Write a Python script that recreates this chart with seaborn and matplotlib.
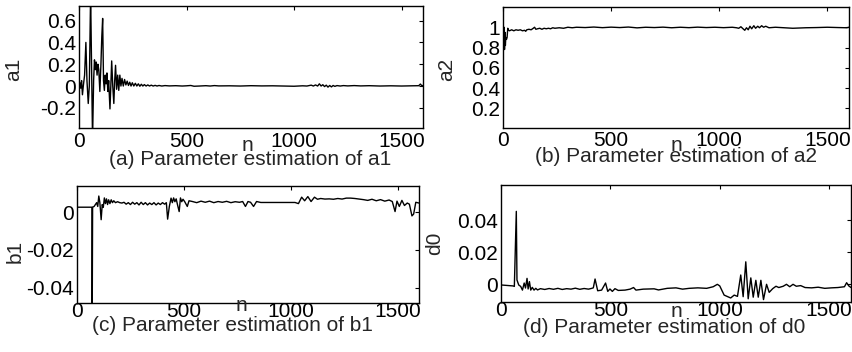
import matplotlib
matplotlib.use("Agg")
import matplotlib.pyplot as plt
import seaborn as sns
import pandas as pd

# ---------------- data ----------------
x_ticks = [0, 500, 1000, 1500]
x_tick_labels = ["0", "500", "1000", "1500"]

# (a) a1
a1_n = [0, 4, 8, 12, 16, 20, 26, 32, 37, 43, 48, 54, 63, 68, 72, 76, 80, 84, 88, 92,
        97, 102, 106, 110, 114, 118, 122, 126, 130, 134, 138, 144, 148, 152, 157, 162,
        166, 170, 175, 180, 185, 190, 195, 200, 206, 212, 218, 224, 230, 236, 242, 248,
        255, 262, 269, 276, 283, 290, 297, 304, 312, 320, 328, 336, 345, 354, 363, 372,
        385, 400, 420, 450, 480, 500, 520, 535, 560, 590, 610, 630, 650, 700, 750, 800,
        850, 900, 950, 1000, 1040, 1060, 1080, 1090, 1100, 1110, 1118, 1126, 1134, 1142,
        1150, 1158, 1166, 1174, 1182, 1190, 1200, 1215, 1230, 1250, 1280, 1310, 1350,
        1400, 1450, 1500, 1550, 1580, 1588, 1594, 1600]
a1_v = [0.0, 0.03, -0.02, 0.05, -0.08, 0.0, 0.1, 0.40, 0.05, -0.16, 0.0, 0.85, -0.5, 0.05,
        0.24, 0.15, 0.22, 0.1, 0.2, 0.15, -0.05, 0.2, 0.45, 0.62, 0.05, -0.04, 0.1, 0.02,
        0.12, -0.05, 0.05, -0.21, 0.0, 0.23, 0.0, -0.16, 0.05, 0.19, -0.03, 0.1, -0.04,
        0.1, 0.0, 0.07, 0.0, 0.06, 0.01, 0.045, 0.005, 0.035, 0.0, 0.03, 0.0, 0.025, 0.0,
        0.02, -0.002, 0.016, 0.0, 0.013, 0.0, 0.01, 0.0, 0.008, 0.0, 0.006, 0.0, 0.005,
        0.0, 0.004, 0.001, 0.003, 0.0, 0.002, 0.005, -0.002, 0.0, 0.003, 0.0, 0.004,
        0.001, 0.002, 0.0, 0.003, 0.001, 0.002, 0.0, -0.002, 0.002, 0.0, 0.008, 0.0,
        0.01, 0.0, 0.02, 0.0, 0.012, -0.005, 0.008, -0.01, 0.005, -0.008, 0.005, -0.003,
        0.004, 0.0, 0.004, 0.001, 0.004, 0.001, 0.003, 0.0, 0.002, 0.0, 0.002, 0.003,
        0.018, 0.003, 0.005]
a1_ticks = [-0.2, 0, 0.2, 0.4, 0.6]
a1_tick_labels = ["-0.2", "0", "0.2", "0.4", "0.6"]

# (b) a2
a2_n = [0, 3, 5, 7, 9, 11, 13, 16, 19, 22, 26, 30, 40, 50, 60, 70, 80, 90, 100, 105,
        110, 120, 130, 140, 146, 152, 160, 170, 180, 190, 200, 210, 220, 230, 240, 260,
        280, 300, 320, 340, 380, 420, 460, 500, 540, 580, 620, 660, 700, 740, 780, 820,
        860, 900, 940, 980, 1020, 1060, 1080, 1090, 1100, 1110, 1118, 1126, 1134, 1142,
        1150, 1160, 1168, 1178, 1186, 1196, 1205, 1215, 1230, 1260, 1300, 1340, 1400,
        1450, 1500, 1550, 1590, 1600]
a2_v = [1.02, 0.8, 1.0, 0.78, 0.95, 0.82, 0.9, 0.88, 0.9, 0.99, 0.97, 0.965, 0.975,
        0.965, 0.975, 0.97, 0.975, 0.965, 0.97, 0.96, 0.975, 0.98, 0.975, 0.99, 1.0,
        0.98, 0.985, 0.99, 0.98, 0.99, 0.985, 0.99, 0.985, 0.995, 0.99, 0.995, 0.99,
        1.0, 0.995, 1.0, 0.997, 1.002, 0.996, 1.001, 0.997, 1.002, 0.994, 1.0, 0.997,
        1.001, 0.995, 1.0, 0.996, 1.001, 0.997, 1.0, 0.996, 1.0, 0.995, 0.99, 1.005,
        0.985, 0.97, 0.995, 0.975, 1.01, 0.985, 1.015, 0.99, 1.01, 0.995, 1.015, 1.0,
        1.01, 0.995, 1.0, 0.995, 0.99, 0.995, 0.997, 1.0, 0.997, 0.995, 1.0]
a2_ticks = [0.2, 0.4, 0.6, 0.8, 1]
a2_tick_labels = ["0.2", "0.4", "0.6", "0.8", "1"]

# (c) b1
b1_n = [0, 70, 71, 73, 80, 86, 92, 97, 102, 107, 113, 118, 123, 128, 133, 138, 143, 148,
        154, 160, 166, 172, 180, 190, 200, 210, 220, 230, 240, 250, 260, 270, 280, 290,
        300, 310, 320, 330, 340, 350, 360, 370, 380, 390, 400, 410, 418, 424, 432, 440,
        446, 452, 458, 464, 470, 478, 484, 490, 496, 504, 516, 524, 540, 560, 580, 600,
        620, 640, 660, 680, 700, 720, 740, 760, 775, 788, 800, 812, 826, 840, 860, 880,
        1020, 1036, 1051, 1065, 1080, 1095, 1111, 1125, 1140, 1160, 1180, 1200, 1220,
        1240, 1260, 1280, 1300, 1320, 1340, 1360, 1380, 1400, 1420, 1440, 1460, 1475,
        1488, 1497, 1508, 1520, 1532, 1545, 1555, 1567, 1575, 1585, 1600]
b1_v = [0.0026, 0.0026, -0.06, 0.0026, 0.003, 0.004, 0.005, 0.003, 0.0085, 0.005,
        -0.004, 0.004, 0.0025, 0.0075, 0.0045, 0.007, 0.004, 0.0065, 0.0045, 0.0065,
        0.005, 0.006, 0.005, 0.0055, 0.005, 0.0048, 0.0052, 0.0042, 0.005, 0.004,
        0.0052, 0.0042, 0.005, 0.0038, 0.0052, 0.004, 0.005, 0.0038, 0.0048, 0.004,
        0.005, 0.0038, 0.0048, 0.004, 0.005, 0.0042, 0.005, -0.0037, 0.003, 0.0074,
        0.005, 0.0075, 0.0055, 0.007, 0.004, 0.0003, 0.0075, 0.0055, 0.0068, 0.0055,
        0.003, 0.006, 0.0056, 0.005, 0.0058, 0.0052, 0.0058, 0.005, 0.0056, 0.0052,
        0.0057, 0.005, 0.0055, 0.0052, 0.0056, 0.003, 0.0056, 0.0052, 0.003, 0.0056,
        0.0051, 0.0051, 0.0051, 0.0045, 0.0079, 0.006, 0.0082, 0.0056, 0.0079, 0.0068,
        0.0072, 0.0069, 0.007, 0.0068, 0.0072, 0.0069, 0.0074, 0.0074, 0.0072, 0.0069,
        0.0066, 0.0062, 0.0068, 0.006, 0.0066, 0.0058, 0.0064, 0.0056, 0.0003, 0.0058,
        0.003, 0.0062, 0.0035, 0.0048, 0.0042, -0.002, -0.001, 0.0052, 0.0048]
b1_ticks = [-0.04, -0.02, 0]
b1_tick_labels = ["-0.04", "-0.02", "0"]

# (d) d0
d0_n = [0, 55, 61, 70, 73, 81, 90, 98, 106, 112, 119, 124, 130, 136, 143, 151, 159,
        167, 180, 200, 220, 240, 260, 280, 300, 320, 340, 360, 380, 400, 415, 422, 430,
        442, 460, 478, 488, 498, 509, 521, 536, 567, 590, 606, 617, 650, 700, 720, 760,
        800, 830, 860, 900, 940, 970, 989, 1000, 1020, 1050, 1066, 1081, 1096, 1107,
        1119, 1130, 1142, 1153, 1165, 1176, 1188, 1200, 1214, 1226, 1242, 1257, 1270,
        1290, 1305, 1320, 1335, 1350, 1370, 1390, 1420, 1450, 1480, 1510, 1540, 1570,
        1580, 1590, 1600]
d0_v = [-0.0004, -0.001, -0.0013, 0.0454, 0.0027, -0.0004, -0.0013, -0.0036, 0.0008,
        -0.0023, 0.0037, -0.0029, 0.0017, -0.0036, -0.0019, -0.0036, -0.0025, -0.0035,
        -0.0027, -0.0032, -0.0026, -0.0031, -0.0025, -0.0032, -0.0027, -0.003, -0.0024,
        -0.0031, -0.0026, -0.003, -0.0025, -0.0022, 0.0033, -0.004, -0.0036, 0.0008,
        -0.0044, -0.0029, -0.0044, -0.0027, -0.0038, -0.0036, -0.003, -0.002, -0.0036,
        -0.003, -0.0028, -0.0035, -0.0025, -0.0022, -0.003, -0.0025, -0.0022, -0.0025,
        -0.0015, 0.0, -0.001, -0.0067, -0.0085, -0.0067, -0.0075, 0.0058, -0.0077,
        0.014, -0.009, 0.004, -0.008, 0.0025, -0.008, 0.0025, -0.0095, 0.0, -0.005,
        -0.0027, -0.0012, -0.002, -0.0012, 0.0, -0.0015, 0.0, -0.0012, -0.0008, -0.002,
        -0.0022, -0.0018, -0.0025, -0.0022, -0.002, -0.0015, 0.001, -0.001, -0.002]
d0_ticks = [0, 0.02, 0.04]
d0_tick_labels = ["0", "0.02", "0.04"]

captions = ["(a) Parameter estimation of a1", "(b) Parameter estimation of a2",
            "(c) Parameter estimation of b1", "(d) Parameter estimation of d0"]
ylabels = ["a1", "a2", "b1", "d0"]

# ---------------- styling ----------------
sns.set_style("white")
plt.rcParams["font.family"] = ["Liberation Sans", "DejaVu Sans"]
FS = 15

fig = plt.figure(figsize=(8.52, 3.52), dpi=100)
W, H = 852.0, 352.0


def mk(l, t, r, b):
    return fig.add_axes([l / W, 1 - b / H, (r - l) / W, (b - t) / H])


axes = [mk(79, 6, 423, 128), mk(503, 7, 849, 128), mk(77, 186, 419, 303), mk(501, 185, 851, 302)]
series = [(a1_n, a1_v), (a2_n, a2_v), (b1_n, b1_v), (d0_n, d0_v)]
ylims = [(-0.385, 0.734), (0.005, 1.2), (-0.048, 0.0138), (-0.011, 0.0618)]
yticks = [(a1_ticks, a1_tick_labels), (a2_ticks, a2_tick_labels),
          (b1_ticks, b1_tick_labels), (d0_ticks, d0_tick_labels)]
ylab_pos = [(-0.19, 0.48), (-0.162, 0.48), (-0.181, 0.44), (-0.189, 0.50)]
xlab_pos = [(0.49, -0.145), (0.502, -0.148), (0.48, -0.025), (0.50, -0.085)]
cap_pos = [(0.4985, -0.255), (0.50, -0.232), (0.455, -0.195), (0.466, -0.218)]
xpad = [3.2, 2.4, -0.6, -0.4]

for i, ax in enumerate(axes):
    n, v = series[i]
    df = pd.DataFrame({"n": n, "v": v})
    sns.lineplot(data=df, x="n", y="v", ax=ax, color="black", linewidth=1.0,
                 estimator=None, sort=False)
    ax.set_xlim(0, 1600)
    ax.set_ylim(*ylims[i])
    ax.set_xticks(x_ticks)
    ax.set_xticklabels(x_tick_labels)
    ax.set_yticks(yticks[i][0])
    ax.set_yticklabels(yticks[i][1])
    ax.tick_params(direction="in", length=3, width=0.8, top=True, right=True,
                   labelsize=FS, colors="black")
    ax.tick_params(axis="x", pad=xpad[i])
    ax.tick_params(axis="y", pad=2)
    for s in ax.spines.values():
        s.set_color("black")
        s.set_linewidth(1.0)
        s.set_visible(True)
    ax.set_xlabel("")
    ax.set_ylabel("")
    ax.text(ylab_pos[i][0], ylab_pos[i][1], ylabels[i], transform=ax.transAxes,
            rotation=90, ha="center", va="center", fontsize=FS)
    ax.text(xlab_pos[i][0], xlab_pos[i][1], "n", transform=ax.transAxes,
            ha="center", va="center", fontsize=FS)
    ax.text(cap_pos[i][0], cap_pos[i][1], captions[i], transform=ax.transAxes,
            ha="center", va="center", fontsize=FS)

fig.savefig("out.png", dpi=100)
